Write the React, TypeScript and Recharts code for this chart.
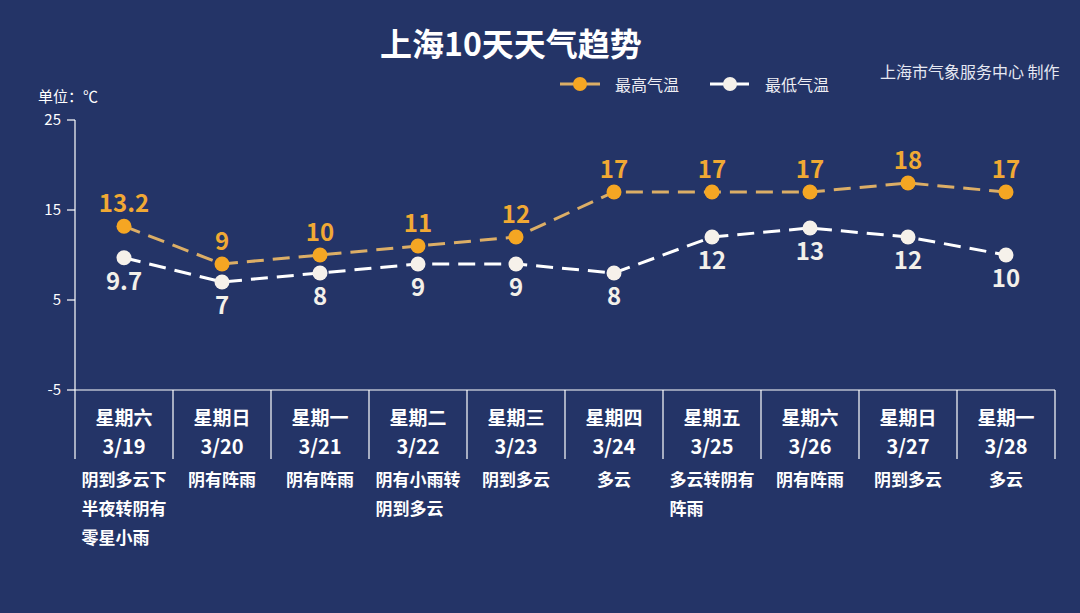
import React from 'react';
import { LineChart, Line, XAxis, YAxis, LabelList } from 'recharts';

const days = ['星期六', '星期日', '星期一', '星期二', '星期三', '星期四', '星期五', '星期六', '星期日', '星期一'];
const dates = ['3/19', '3/20', '3/21', '3/22', '3/23', '3/24', '3/25', '3/26', '3/27', '3/28'];
const weather = [
  ['阴到多云下', '半夜转阴有', '零星小雨'],
  ['阴有阵雨'],
  ['阴有阵雨'],
  ['阴有小雨转', '阴到多云'],
  ['阴到多云'],
  ['多云'],
  ['多云转阴有', '阵雨'],
  ['阴有阵雨'],
  ['阴到多云'],
  ['多云'],
];
const highTemps = [13.2, 9, 10, 11, 12, 17, 17, 17, 18, 17];
const lowTemps = [9.7, 7, 8, 9, 9, 8, 12, 13, 12, 10];
const yTicks = [-5, 5, 15, 25];

const data = dates.map((d, i) => ({ date: d, high: highTemps[i], low: lowTemps[i] }));

const W = 1080;
const H = 613;
const BG = '#243467';
const FONT = "'Noto Sans CJK SC', 'Noto Sans', sans-serif";
const ORANGE = '#f5a623';
const ORANGE_LINE = '#dcae66';
const WHITE = '#f6f1ea';

const PLOT_LEFT = 75;
const PLOT_RIGHT = 1055;
const STEP = (PLOT_RIGHT - PLOT_LEFT) / dates.length;

const CategoryTick = (props: any) => {
  const { x, y, payload } = props;
  const i: number = payload.index;
  const half = STEP / 2;
  const lines = weather[i] || [];
  const fs = 17;
  const maxW = Math.max(...lines.map((l) => l.length)) * fs;
  const left = x - maxW / 2;
  return (
    <g fontFamily={FONT}>
      <line x1={x - half} y1={y} x2={x - half} y2={y + 69} stroke="#ffffff" strokeWidth={1.2} />
      {i === dates.length - 1 && (
        <line x1={x + half} y1={y} x2={x + half} y2={y + 69} stroke="#ffffff" strokeWidth={1.2} />
      )}
      <text x={x} y={y + 26} textAnchor="middle" dominantBaseline="central" fill="#ffffff" fontSize={19} fontWeight="bold">
        {days[i]}
      </text>
      <text x={x} y={y + 55} textAnchor="middle" dominantBaseline="central" fill="#ffffff" fontSize={20} fontWeight="bold">
        {dates[i]}
      </text>
      {lines.map((l, k) => (
        <text key={k} x={left} y={y + 88 + k * 29} textAnchor="start" dominantBaseline="central" fill="#ffffff" fontSize={fs} fontWeight="bold">
          {l}
        </text>
      ))}
    </g>
  );
};

export default function App() {
  return (
    <div style={{ position: 'absolute', left: 0, top: 0, width: W, height: H, background: BG, overflow: 'hidden', fontFamily: FONT }}>
      <LineChart width={W} height={H} data={data} margin={{ top: 120, right: W - PLOT_RIGHT, bottom: 73, left: 15 }}>
        <XAxis
          dataKey="date"
          interval={0}
          padding={{ left: STEP / 2, right: STEP / 2 }}
          axisLine={{ stroke: '#ffffff', strokeWidth: 1.2 }}
          tickLine={false}
          tickSize={0}
          tickMargin={0}
          height={150}
          tick={<CategoryTick />}
        />
        <YAxis
          domain={[-5, 25]}
          ticks={yTicks}
          width={60}
          axisLine={{ stroke: '#ffffff', strokeWidth: 1.2 }}
          tickLine={{ stroke: '#ffffff', strokeWidth: 1.2 }}
          tickSize={8}
          tickMargin={6}
          tick={{ fill: '#ffffff', fontSize: 15, fontFamily: FONT }}
        />
        <Line
          dataKey="high"
          isAnimationActive={false}
          stroke={ORANGE_LINE}
          strokeWidth={3}
          strokeDasharray="17 9"
          dot={{ r: 7.5, fill: ORANGE, stroke: 'none', strokeWidth: 0 }}
          activeDot={false}
        >
          <LabelList dataKey="high" position="top" offset={14} fill="#f1a934" fontSize={24} fontWeight="bold" fontFamily={FONT} />
        </Line>
        <Line
          dataKey="low"
          isAnimationActive={false}
          stroke="#ffffff"
          strokeWidth={3}
          strokeDasharray="17 9"
          dot={{ r: 7.5, fill: WHITE, stroke: 'none', strokeWidth: 0 }}
          activeDot={false}
        >
          <LabelList dataKey="low" position="bottom" offset={15} fill="#f3f0ea" fontSize={24} fontWeight="bold" fontFamily={FONT} />
        </Line>
      </LineChart>
      <svg width={W} height={H} style={{ position: 'absolute', left: 0, top: 0, pointerEvents: 'none' }} fontFamily={FONT}>
        <text x={511} y={42} textAnchor="middle" dominantBaseline="central" fill="#ffffff" fontSize={32} fontWeight="bold">
          上海10天天气趋势
        </text>
        <text x={38} y={95} dominantBaseline="central" fill="#ffffff" fontSize={15}>
          单位：℃
        </text>
        <line x1={560} y1={84} x2={600} y2={84} stroke={ORANGE_LINE} strokeWidth={3} />
        <circle cx={580} cy={84} r={7} fill={ORANGE} />
        <text x={615} y={84} dominantBaseline="central" fill="#eeeef4" fontSize={16}>
          最高气温
        </text>
        <line x1={710} y1={84} x2={749} y2={84} stroke="#ffffff" strokeWidth={3} />
        <circle cx={730} cy={84} r={7} fill={WHITE} />
        <text x={765} y={84} dominantBaseline="central" fill="#eeeef4" fontSize={16}>
          最低气温
        </text>
        <text x={880} y={71} dominantBaseline="central" fill="#e6e8f2" fontSize={16}>
          上海市气象服务中心 制作
        </text>
      </svg>
    </div>
  );
}
